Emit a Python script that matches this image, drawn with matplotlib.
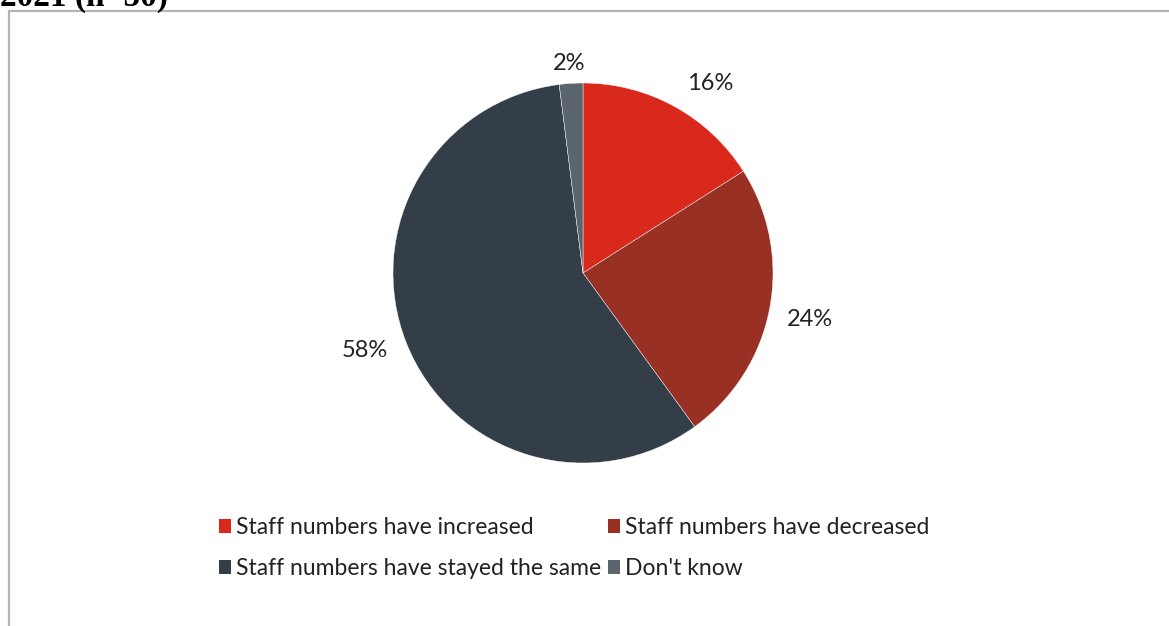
import matplotlib.pyplot as plt
from matplotlib.patches import Rectangle, Patch
import numpy as np

# staff number changes, 2021 survey (n=50)
categories = ["Staff numbers have increased", "Staff numbers have decreased",
              "Staff numbers have stayed the same", "Don't know"]
shares = [16, 24, 58, 2]
colors = ["#d9291d", "#993024", "#333e49", "#5a6570"]
label_dist = [1.20, 1.22, 1.22, 1.105]
label_shift = [-5.0, -0.7, -2.0, 0.2]   # degrees off the wedge middle

W, H = 1169, 626
fig = plt.figure(figsize=(W / 100, H / 100), dpi=100)
plt.rcParams['font.family'] = ['Lato', 'DejaVu Sans']

# chart frame (runs off the page right and bottom)
fig.patches.append(Rectangle((8.5 / W, -0.1), 1.2, 1.1 - 11.5 / H, transform=fig.transFigure,
                             fill=False, edgecolor="#b3b3b3", linewidth=1.6, clip_on=False))

# heading clipped at the top edge
fig.text(0, 1 - 6 / H, "2021 (n=50)", family="Liberation Serif", fontweight="bold",
         fontsize=24, color="black", ha="left", va="baseline")

cx, cy, r = 583, 273, 190
ax = fig.add_axes([(cx - r) / W, 1 - (cy + r) / H, 2 * r / W, 2 * r / H])

wedges, _ = ax.pie(shares, colors=colors, startangle=90, counterclock=False, radius=1,
                   wedgeprops=dict(edgecolor="white", linewidth=0.3))
ax.set_xlim(-1, 1)
ax.set_ylim(-1, 1)
ax.axis('off')

for w, v, d, s in zip(wedges, shares, label_dist, label_shift):
    ang = np.deg2rad((w.theta1 + w.theta2) / 2 + s)
    ax.text(d * np.cos(ang), d * np.sin(ang), f"{v}%", ha="center", va="center",
            fontsize=17, color="#222222", clip_on=False)

# legend filled row by row
order = [0, 2, 1, 3]
handles = [Patch(facecolor=colors[i], edgecolor="none") for i in order]
labels = [categories[i] for i in order]
fig.legend(handles, labels, ncol=2, loc="center", bbox_to_anchor=(574 / W, 1 - 548 / H),
           frameon=False, fontsize=16.5, handlelength=0.55, handleheight=0.55,
           handletextpad=0.2, columnspacing=0.3, labelspacing=0.85, labelcolor="#222222")

fig.savefig("out.png", dpi=100)
